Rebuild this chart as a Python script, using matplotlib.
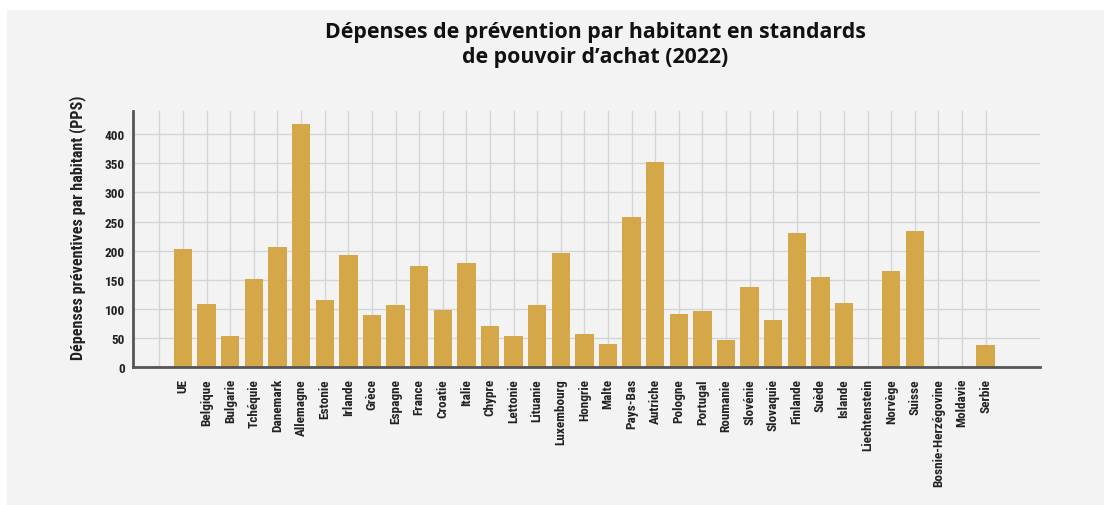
import matplotlib
matplotlib.use('Agg')
import matplotlib.pyplot as plt
from matplotlib import font_manager
import numpy as np

# données (PPS par habitant, 2022)
pays = ['UE', 'Belgique', 'Bulgarie', 'Tchéquie', 'Danemark', 'Allemagne', 'Estonie',
        'Irlande', 'Grèce', 'Espagne', 'France', 'Croatie', 'Italie', 'Chypre',
        'Lettonie', 'Lituanie', 'Luxembourg', 'Hongrie', 'Malte', 'Pays-Bas',
        'Autriche', 'Pologne', 'Portugal', 'Roumanie', 'Slovénie', 'Slovaquie',
        'Finlande', 'Suède', 'Islande', 'Liechtenstein', 'Norvège', 'Suisse',
        'Bosnie-Herzégovine', 'Moldavie', 'Serbie']
depenses = [202, 109, 54, 151, 207, 417, 115,
            193, 89, 106, 173, 98, 178, 71,
            53, 107, 196, 57, 40, 258,
            353, 91, 97, 46, 137, 80,
            231, 155, 110, 0, 165, 233,
            0, 0, 37]
y_ticks = [0, 50, 100, 150, 200, 250, 300, 350, 400]

titre = 'Dépenses de prévention par habitant en standards\nde pouvoir d\u2019achat (2022)'
y_label = 'Dépenses préventives par habitant (PPS)'

names = {f.name for f in font_manager.fontManager.ttflist}
narrow, small_size = 'Liberation Sans', 8.3
for fam, sz in [('Liberation Sans Narrow', 9.5), ('DejaVu Sans Condensed', 8.5),
                ('Roboto Condensed', 9.5)]:
    if fam in names:
        narrow, small_size = fam, sz
        break
title_font = 'Open Sans' if 'Open Sans' in names else 'DejaVu Sans'

bg = '#f3f3f3'
bar_color = '#d4a848'
txt = '#222222'

fig = plt.figure(figsize=(11.04, 5.06), dpi=100, facecolor='white')
# panneau gris clair (bord blanc en haut et à gauche)
fig.patches.append(plt.Rectangle((7 / 1104, 0), 1, 1 - 11 / 506, transform=fig.transFigure,
                                 facecolor=bg, edgecolor='none', zorder=-10))

ax = fig.add_axes([0.1205, 0.2727, 0.942 - 0.1205, 0.7787 - 0.2727])
ax.set_facecolor(bg)

x = np.arange(len(pays))
ax.bar(x, depenses, width=0.78, color=bar_color, zorder=3)

ax.set_xlim(-2.12, 36.3)
ax.set_ylim(0, 440)

# quadrillage: une ligne verticale par catégorie (plus une vide avant UE)
ax.set_xticks(np.arange(-1, len(pays)))
ax.set_xticklabels([''] + pays, rotation=90, fontfamily=narrow, fontsize=small_size,
                   fontweight='bold', color=txt)
ax.set_yticks(y_ticks)
ax.set_yticklabels([str(v) for v in y_ticks], fontfamily=narrow, fontsize=small_size,
                   fontweight='bold', color=txt)
ax.tick_params(axis='x', length=0, pad=8)
ax.tick_params(axis='y', length=0, pad=6)
ax.grid(True, color='#d5d5d5', linewidth=1, zorder=0)

for s in ['top', 'right']:
    ax.spines[s].set_visible(False)
for s in ['left', 'bottom']:
    ax.spines[s].set_color('#555555')
    ax.spines[s].set_linewidth(2)
    ax.spines[s].set_zorder(4)

ax.set_ylabel(y_label, fontfamily=narrow, fontsize=small_size * 1.22, fontweight='bold',
              color=txt)
ax.yaxis.set_label_coords(-0.052, 0.547)

fig.text(0.539, 0.912, titre, ha='center', va='center', fontfamily=title_font,
         fontsize=15.4, fontweight='bold', color='#111111', linespacing=1.25)

fig.savefig('out.png', dpi=100, facecolor='white')
